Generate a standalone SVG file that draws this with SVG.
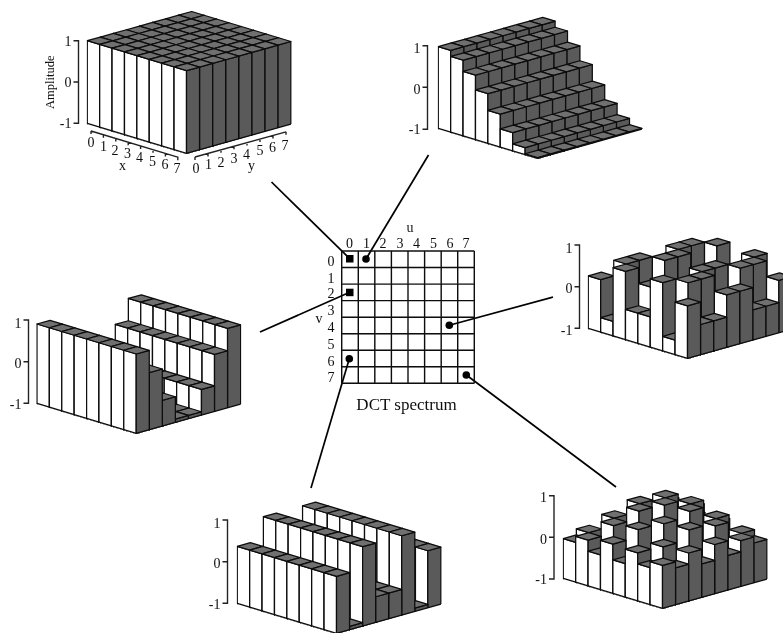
<svg xmlns="http://www.w3.org/2000/svg" width="783" height="633" viewBox="0 0 783 633">
<style>
text{font-family:"Liberation Serif","Times New Roman",serif;font-size:14px;fill:#111;text-anchor:middle}
.e{text-anchor:end}
.wf{fill:#fff}
.gf{fill:#5a5a5a}
.tf{fill:#707070;stroke-width:1.7}
.bar path{stroke:#0c0c0c;stroke-width:1.25;stroke-linejoin:round}
.ax{fill:none;stroke:#222;stroke-width:1.4}
.base{fill:none;stroke:#0c0c0c;stroke-width:1.4}
.grid{fill:none;stroke:#0c0c0c;stroke-width:1.4}
.conn{fill:none;stroke:#000;stroke-width:1.7}
</style>
<defs>
<filter id="soft" x="0" y="0" width="100%" height="100%"><feGaussianBlur stdDeviation="0.4"/></filter>
<clipPath id="sil"><polygon points="-0.8,-200 -0.8,0.7 99.2,30.7 203.6,0.7 204.5,0.7 204.5,-200"/></clipPath>
<g id="b" class="bar">
<path class="wf" d="M0,0L12.4,3.75V112H0Z"/>
<path class="gf" d="M12.4,3.75L25.45,.1V112H12.4Z"/>
<path class="tf" d="M0,0L12.4,3.75L25.45,.1L13.05,-3.65Z"/>
</g>
<g id="r0">
<use href="#b" x="0" y="0"/><use href="#b" x="12.4" y="3.75"/><use href="#b" x="24.8" y="7.5"/><use href="#b" x="37.2" y="11.25"/><use href="#b" x="49.6" y="15"/><use href="#b" x="62" y="18.75"/><use href="#b" x="74.4" y="22.5"/><use href="#b" x="86.8" y="26.25"/>
</g>
<g id="r2">
<use href="#b" x="0" y="-81.7"/><use href="#b" x="12.4" y="-71.85"/><use href="#b" x="24.8" y="-56.9"/><use href="#b" x="37.2" y="-38.35"/><use href="#b" x="49.6" y="-18"/><use href="#b" x="62" y="0.55"/><use href="#b" x="74.4" y="15.5"/><use href="#b" x="86.8" y="25.45"/>
</g>
<g id="rA">
<use href="#b" x="0" y="-52.45"/><use href="#b" x="12.4" y="-10.7"/><use href="#b" x="24.8" y="-60.65"/><use href="#b" x="37.2" y="-18.9"/><use href="#b" x="49.6" y="-15.15"/><use href="#b" x="62" y="-49.4"/><use href="#b" x="74.4" y="8.05"/><use href="#b" x="86.8" y="-26.2"/>
</g>
<g id="rB">
<use href="#b" x="0" y="-30.15"/><use href="#b" x="12.4" y="-64.4"/><use href="#b" x="24.8" y="-6.95"/><use href="#b" x="37.2" y="-41.2"/><use href="#b" x="49.6" y="-37.45"/><use href="#b" x="62" y="4.3"/><use href="#b" x="74.4" y="-45.65"/><use href="#b" x="86.8" y="-3.9"/>
</g>
</defs>
<rect width="783" height="633" fill="#fff"/>
<g filter="url(#soft)">

<g id="connectors">
<path class="conn" d="M271.5,182L349.7,258.7"/>
<path class="conn" d="M428.5,155L366,259"/>
<path class="conn" d="M260,332L349.7,292.3"/>
<path class="conn" d="M553,297L449.3,325.3"/>
<path class="conn" d="M311,488L349.3,358.7"/>
<path class="conn" d="M616,487L466.3,375"/>
</g>

<g id="plot-u0-v0">
<path class="ax" d="M73.5,40.7H78.5V123.3H73.5M73.5,82H78.5"/>
<text class="e" x="71.5" y="46">1</text><text class="e" x="71.5" y="87">0</text><text class="e" x="71.5" y="128">-1</text>
<text transform="translate(54,82.3) rotate(-90)" style="font-size:12.5px">Amplitude</text>
<g transform="translate(87.3,123.3)"><g clip-path="url(#sil)">
<use href="#r0" x="91.35" y="-108.15"/><use href="#r0" x="78.3" y="-104.5"/><use href="#r0" x="65.25" y="-100.85"/><use href="#r0" x="52.2" y="-97.2"/><use href="#r0" x="39.15" y="-93.55"/><use href="#r0" x="26.1" y="-89.9"/><use href="#r0" x="13.05" y="-86.25"/><use href="#r0" x="0" y="-82.6"/>
</g><path class="base" d="M0,0L99.2,30L203.6,.8"/></g>
<path class="ax" d="M91,131L178.5,157.4M91,131v3M103.4,134.75v3M115.8,138.5v3M128.2,142.25v3M140.6,146v3M153,149.75v3M165.4,153.5v3M177.8,157.25v3M195,157L286,131.8M195,157v3M208,153.4v3M221,149.8v3M234,146.2v3M247,142.6v3M260,139v3M273,135.4v3M286,131.8v3"/>
<text x="91" y="146.5">0</text><text x="103.5" y="150.5">1</text><text x="115" y="155">2</text><text x="127.5" y="157.5">3</text><text x="139.5" y="161.5">4</text><text x="152.5" y="166">5</text><text x="165" y="168.5">6</text><text x="177" y="172.5">7</text>
<text x="122.5" y="170">x</text>
<text x="196" y="172.5">0</text><text x="208.5" y="168.5">1</text><text x="221" y="166.5">2</text><text x="234" y="163">3</text><text x="246.5" y="158.5">4</text><text x="260" y="155">5</text><text x="272.5" y="151.5">6</text><text x="285" y="149.5">7</text>
<text x="251.5" y="170">y</text>
</g>

<g id="plot-u1-v0">
<path class="ax" d="M422.5,45.7H427.5V129.3H422.5M422.5,87.3H427.5"/>
<text class="e" x="420.5" y="53">1</text><text class="e" x="420.5" y="94">0</text><text class="e" x="420.5" y="134">-1</text>
<g transform="translate(438.3,128.3)"><g clip-path="url(#sil)">
<use href="#r2" x="91.35" y="-25.55"/><use href="#r2" x="78.3" y="-21.9"/><use href="#r2" x="65.25" y="-18.25"/><use href="#r2" x="52.2" y="-14.6"/><use href="#r2" x="39.15" y="-10.95"/><use href="#r2" x="26.1" y="-7.3"/><use href="#r2" x="13.05" y="-3.65"/><use href="#r2" x="0" y="0"/>
</g><path class="base" d="M0,0L99.2,30L203.6,.8"/></g>
</g>

<g id="plot-u0-v2">
<path class="ax" d="M23.5,320H28.5V403.3H23.5M23.5,361.7H28.5"/>
<text class="e" x="21.5" y="328">1</text><text class="e" x="21.5" y="368">0</text><text class="e" x="21.5" y="409">-1</text>
<g transform="translate(37,403.3)"><g clip-path="url(#sil)">
<use href="#r0" x="91.35" y="-104.85"/><use href="#r0" x="78.3" y="-78.9"/><use href="#r0" x="65.25" y="-43.85"/><use href="#r0" x="52.2" y="-17.9"/><use href="#r0" x="39.15" y="-14.25"/><use href="#r0" x="26.1" y="-32.9"/><use href="#r0" x="13.05" y="-60.65"/><use href="#r0" x="0" y="-79.3"/>
</g><path class="base" d="M0,0L99.2,30L203.6,.8"/></g>
</g>

<g id="plot-u6-v4">
<path class="ax" d="M574.5,245H579.5V328.3H574.5M574.5,286.7H579.5"/>
<text class="e" x="572.5" y="253">1</text><text class="e" x="572.5" y="293">0</text><text class="e" x="572.5" y="335">-1</text>
<g transform="translate(588.3,328.3)"><g clip-path="url(#sil)">
<use href="#rA" x="91.35" y="-25.55"/><use href="#rB" x="78.3" y="-21.9"/><use href="#rB" x="65.25" y="-18.25"/><use href="#rA" x="52.2" y="-14.6"/><use href="#rA" x="39.15" y="-10.95"/><use href="#rB" x="26.1" y="-7.3"/><use href="#rB" x="13.05" y="-3.65"/><use href="#rA" x="0" y="0"/>
</g><path class="base" d="M0,0L99.2,30L203.6,.8"/></g>
</g>

<g id="plot-u0-v6">
<path class="ax" d="M222.5,520H227.5V603.3H222.5M222.5,561.7H227.5"/>
<text class="e" x="220.5" y="528">1</text><text class="e" x="220.5" y="568">0</text><text class="e" x="220.5" y="609">-1</text>
<g transform="translate(237.3,603.3)"><g clip-path="url(#sil)">
<use href="#r0" x="91.35" y="-82.55"/><use href="#r0" x="78.3" y="-25.2"/><use href="#r0" x="65.25" y="-97.55"/><use href="#r0" x="52.2" y="-40.2"/><use href="#r0" x="39.15" y="-36.55"/><use href="#r0" x="26.1" y="-86.6"/><use href="#r0" x="13.05" y="-6.95"/><use href="#r0" x="0" y="-57"/>
</g><path class="base" d="M0,0L99.2,30L203.6,.8"/></g>
</g>

<g id="plot-u7-v7">
<path class="ax" d="M549,495.7H554V579H549M549,537.3H554"/>
<text class="e" x="547" y="502">1</text><text class="e" x="547" y="544">0</text><text class="e" x="547" y="584">-1</text>
<g transform="translate(563.3,578.3)"><g clip-path="url(#sil)">
<g transform="translate(91.35,-25.55)"><use href="#b" x="0" y="-42.87"/><use href="#b" x="12.4" y="-33.09"/><use href="#b" x="24.8" y="-40.5"/><use href="#b" x="37.2" y="-22.16"/><use href="#b" x="49.6" y="-34.19"/><use href="#b" x="62" y="-15.86"/><use href="#b" x="74.4" y="-23.26"/><use href="#b" x="86.8" y="-13.48"/></g>
<g transform="translate(78.3,-21.9)"><use href="#b" x="0" y="-36.84"/><use href="#b" x="12.4" y="-50.31"/><use href="#b" x="24.8" y="-14.76"/><use href="#b" x="37.2" y="-52.56"/><use href="#b" x="49.6" y="-3.79"/><use href="#b" x="62" y="-41.59"/><use href="#b" x="74.4" y="-6.04"/><use href="#b" x="86.8" y="-19.51"/></g>
<g transform="translate(65.25,-18.25)"><use href="#b" x="0" y="-48"/><use href="#b" x="12.4" y="-18.51"/><use href="#b" x="24.8" y="-62.26"/><use href="#b" x="37.2" y="3.53"/><use href="#b" x="49.6" y="-59.88"/><use href="#b" x="62" y="5.91"/><use href="#b" x="74.4" y="-37.84"/><use href="#b" x="86.8" y="-8.36"/></g>
<g transform="translate(52.2,-14.6)"><use href="#b" x="0" y="-33.41"/><use href="#b" x="12.4" y="-60.06"/><use href="#b" x="24.8" y="-0.22"/><use href="#b" x="37.2" y="-69.7"/><use href="#b" x="49.6" y="13.35"/><use href="#b" x="62" y="-56.13"/><use href="#b" x="74.4" y="3.71"/><use href="#b" x="86.8" y="-22.94"/></g>
<g transform="translate(39.15,-10.95)"><use href="#b" x="0" y="-49.19"/><use href="#b" x="12.4" y="-15.04"/><use href="#b" x="24.8" y="-67.38"/><use href="#b" x="37.2" y="9.6"/><use href="#b" x="49.6" y="-65.95"/><use href="#b" x="62" y="11.03"/><use href="#b" x="74.4" y="-41.31"/><use href="#b" x="86.8" y="-7.16"/></g>
<g transform="translate(26.1,-7.3)"><use href="#b" x="0" y="-34.61"/><use href="#b" x="12.4" y="-56.59"/><use href="#b" x="24.8" y="-5.34"/><use href="#b" x="37.2" y="-63.63"/><use href="#b" x="49.6" y="7.28"/><use href="#b" x="62" y="-51.01"/><use href="#b" x="74.4" y="0.24"/><use href="#b" x="86.8" y="-21.75"/></g>
<g transform="translate(13.05,-3.65)"><use href="#b" x="0" y="-45.76"/><use href="#b" x="12.4" y="-24.79"/><use href="#b" x="24.8" y="-52.84"/><use href="#b" x="37.2" y="-7.54"/><use href="#b" x="49.6" y="-48.81"/><use href="#b" x="62" y="-3.51"/><use href="#b" x="74.4" y="-31.56"/><use href="#b" x="86.8" y="-10.59"/></g>
<g><use href="#b" x="0" y="-39.73"/><use href="#b" x="12.4" y="-42.01"/><use href="#b" x="24.8" y="-27.11"/><use href="#b" x="37.2" y="-37.94"/><use href="#b" x="49.6" y="-18.41"/><use href="#b" x="62" y="-29.25"/><use href="#b" x="74.4" y="-14.34"/><use href="#b" x="86.8" y="-16.62"/></g>
</g><path class="base" d="M0,0L99.2,30L203.6,.8"/></g>
</g>

<g id="spectrum">
<path class="grid" d="M341.7,251V383.3M358.3,251V383.3M374.8,251V383.3M391.4,251V383.3M408,251V383.3M424.6,251V383.3M441.2,251V383.3M457.7,251V383.3M474.3,251V383.3M341.7,251H474.3M341.7,267.5H474.3M341.7,284.1H474.3M341.7,300.6H474.3M341.7,317.2H474.3M341.7,333.7H474.3M341.7,350.2H474.3M341.7,366.8H474.3M341.7,383.3H474.3"/>
<text x="349.5" y="247.5">0</text><text x="366.5" y="247.5">1</text><text x="383" y="247.5">2</text><text x="400" y="247.5">3</text><text x="416.5" y="247.5">4</text><text x="433.5" y="247.5">5</text><text x="450" y="247.5">6</text><text x="466" y="247.5">7</text>
<text x="410" y="232">u</text>
<text x="331" y="265.5">0</text><text x="331" y="282.5">1</text><text x="331" y="298">2</text><text x="331" y="314.5">3</text><text x="331" y="332">4</text><text x="331" y="349">5</text><text x="331" y="366">6</text><text x="331" y="382">7</text>
<text x="319" y="323">v</text>
<text x="406.5" y="410" style="font-size:17px">DCT spectrum</text>
<rect x="346" y="255" width="7.5" height="7.5" fill="#000"/>
<rect x="346" y="288.7" width="7.5" height="7.5" fill="#000"/>
<circle cx="366" cy="259" r="3.8" fill="#000"/>
<circle cx="449.3" cy="325.3" r="3.8" fill="#000"/>
<circle cx="349.3" cy="358.7" r="3.8" fill="#000"/>
<circle cx="466.3" cy="375" r="3.8" fill="#000"/>
</g>
</g>
</svg>
